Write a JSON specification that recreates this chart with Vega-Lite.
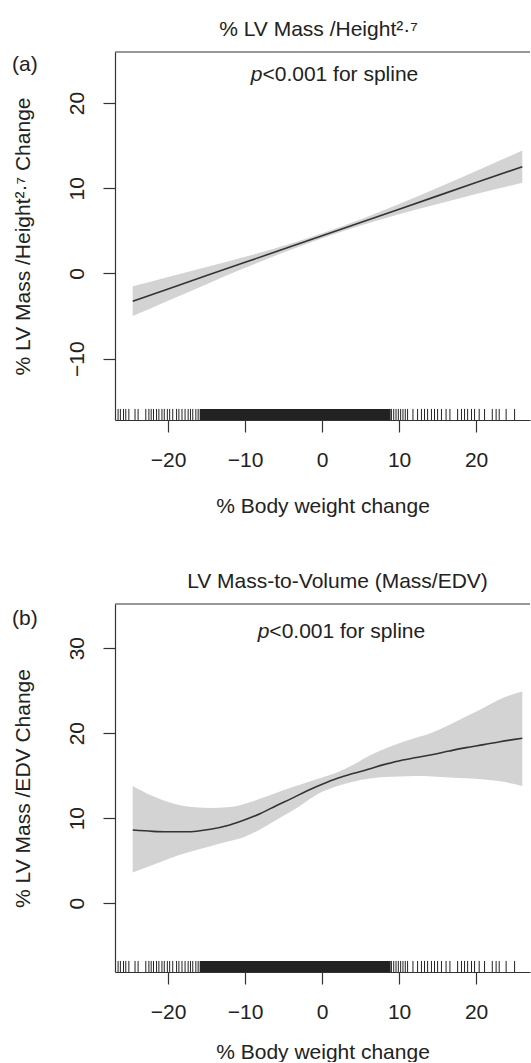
{
  "$schema": "https://vega.github.io/schema/vega-lite/v6.json",
  "background": "white",
  "padding": {"left": 12, "top": 19, "right": 0, "bottom": 0},
  "spacing": 55,
  "config": {
    "font": "Liberation Sans",
    "view": {"stroke": null},
    "axis": {
      "grid": false,
      "domainColor": "#333333",
      "tickColor": "#333333",
      "labelColor": "#222222",
      "titleColor": "#222222",
      "labelFont": "Liberation Sans",
      "titleFont": "Liberation Sans",
      "labelFontSize": 21,
      "titleFontSize": 21,
      "titleFontWeight": "normal",
      "tickSize": 12,
      "domainWidth": 1.2,
      "tickWidth": 1.2
    },
    "axisX": {"labelPadding": 17, "labelFlush": false},
    "axisY": {"labelAngle": -90, "labelAlign": "center", "labelBaseline": "alphabetic", "labelPadding": 20, "titlePadding": 33, "labelFlush": false},
    "title": {"fontSize": 21, "fontWeight": "normal", "color": "#222222", "frame": "group", "anchor": "middle", "baseline": "alphabetic", "offset": 11, "font": "Liberation Sans"}
  },
  "datasets": {
    "fitA": [
      {"x": -24.6, "fit": -3.25, "lo": -5.0, "hi": -1.5},
      {"x": -20, "fit": -1.81, "lo": -3.21, "hi": -0.41},
      {"x": -15, "fit": -0.25, "lo": -1.25, "hi": 0.75},
      {"x": -10, "fit": 1.31, "lo": 0.66, "hi": 1.96},
      {"x": -5, "fit": 2.87, "lo": 2.47, "hi": 3.27},
      {"x": 0, "fit": 4.43, "lo": 4.13, "hi": 4.73},
      {"x": 5, "fit": 5.99, "lo": 5.64, "hi": 6.34},
      {"x": 10, "fit": 7.55, "lo": 6.95, "hi": 8.15},
      {"x": 15, "fit": 9.11, "lo": 8.16, "hi": 10.06},
      {"x": 20, "fit": 10.67, "lo": 9.32, "hi": 12.02},
      {"x": 26, "fit": 12.54, "lo": 10.64, "hi": 14.44}
    ],
    "fitB": [
      {"x": -24.6, "fit": 8.6, "lo": 3.6, "hi": 13.8},
      {"x": -22, "fit": 8.45, "lo": 4.5, "hi": 12.6},
      {"x": -20, "fit": 8.4, "lo": 5.2, "hi": 11.9},
      {"x": -17.7, "fit": 8.4, "lo": 5.9, "hi": 11.4},
      {"x": -14.5, "fit": 8.7, "lo": 6.7, "hi": 11.2},
      {"x": -12, "fit": 9.2, "lo": 7.3, "hi": 11.3},
      {"x": -10.2, "fit": 9.75, "lo": 7.75, "hi": 11.65},
      {"x": -8, "fit": 10.55, "lo": 8.7, "hi": 12.3},
      {"x": -5.9, "fit": 11.5, "lo": 9.8, "hi": 13.0},
      {"x": -4, "fit": 12.3, "lo": 10.8, "hi": 13.6},
      {"x": -2, "fit": 13.2, "lo": 12.0, "hi": 14.2},
      {"x": 0, "fit": 14.0, "lo": 13.1, "hi": 14.8},
      {"x": 2, "fit": 14.7, "lo": 13.8, "hi": 15.4},
      {"x": 4, "fit": 15.25, "lo": 14.3, "hi": 16.25},
      {"x": 6, "fit": 15.75, "lo": 14.65, "hi": 17.3},
      {"x": 8, "fit": 16.3, "lo": 14.85, "hi": 18.1},
      {"x": 10.1, "fit": 16.75, "lo": 14.9, "hi": 18.85},
      {"x": 12, "fit": 17.1, "lo": 14.95, "hi": 19.4},
      {"x": 14.4, "fit": 17.5, "lo": 14.9, "hi": 20.1},
      {"x": 16.5, "fit": 17.9, "lo": 14.8, "hi": 20.95},
      {"x": 18.7, "fit": 18.3, "lo": 14.7, "hi": 21.95},
      {"x": 21, "fit": 18.65, "lo": 14.55, "hi": 23.0},
      {"x": 23.1, "fit": 19.0, "lo": 14.35, "hi": 24.0},
      {"x": 26, "fit": 19.4, "lo": 13.8, "hi": 24.9}
    ],
    "rug": [
      {"x": -26.5}, {"x": -26.2}, {"x": -25.8}, {"x": -25.5}, {"x": -25.1}, {"x": -24.3}, {"x": -23.9},
      {"x": -22.9}, {"x": -22.5}, {"x": -22.2}, {"x": -21.9}, {"x": -21.5}, {"x": -21.2}, {"x": -20.8},
      {"x": -20.5}, {"x": -20.1}, {"x": -19.8}, {"x": -19.4}, {"x": -18.9}, {"x": -18.6}, {"x": -18.2},
      {"x": -17.8}, {"x": -17.4}, {"x": -17.1}, {"x": -16.8}, {"x": -16.4}, {"x": -16.1},
      {"x": 9.0}, {"x": 9.3}, {"x": 9.6}, {"x": 9.9}, {"x": 10.2}, {"x": 10.5}, {"x": 10.8}, {"x": 11.1},
      {"x": 11.8}, {"x": 12.4}, {"x": 12.9}, {"x": 13.3}, {"x": 13.7}, {"x": 14.2}, {"x": 14.6}, {"x": 15.0},
      {"x": 15.5}, {"x": 16.1}, {"x": 16.6}, {"x": 17.6}, {"x": 18.1}, {"x": 18.5}, {"x": 18.9}, {"x": 19.4},
      {"x": 19.8}, {"x": 20.4}, {"x": 21.1}, {"x": 22.1}, {"x": 22.6}, {"x": 23.0}, {"x": 23.9}, {"x": 25.0}
    ],
    "rugBand": [{"start": -15.9, "end": 8.9}]
  },
  "vconcat": [
    {
      "width": 415,
      "height": 368,
      "title": {"text": "% LV Mass /Height²·⁷", "dx": -4},
      "layer": [
        {
          "data": {"name": "fitA"},
          "mark": {"type": "area", "color": "#d3d3d3", "interpolate": "monotone"},
          "encoding": {
            "x": {"field": "x", "type": "quantitative", "scale": {"domain": [-26.9, 27.0], "nice": false, "zero": false}, "axis": {"values": [-20, -10, 0, 10, 20], "title": "% Body weight change", "titlePadding": 25}},
            "y": {"field": "lo", "type": "quantitative", "scale": {"domain": [-17.2, 26], "nice": false, "zero": false}, "axis": {"values": [-10, 0, 10, 20], "title": "% LV Mass /Height²·⁷ Change"}},
            "y2": {"field": "hi"}
          }
        },
        {
          "data": {"name": "fitA"},
          "mark": {"type": "line", "color": "#333333", "strokeWidth": 1.6},
          "encoding": {
            "x": {"field": "x", "type": "quantitative"},
            "y": {"field": "fit", "type": "quantitative"}
          }
        },
        {
          "data": {"name": "rugBand"},
          "mark": {"type": "rect", "color": "#222222"},
          "encoding": {
            "x": {"field": "start", "type": "quantitative"},
            "x2": {"field": "end"},
            "y": {"datum": -17.2},
            "y2": {"datum": -15.9}
          }
        },
        {
          "data": {"name": "rug"},
          "mark": {"type": "rule", "color": "#222222", "strokeWidth": 1},
          "encoding": {
            "x": {"field": "x", "type": "quantitative"},
            "y": {"datum": -17.2},
            "y2": {"datum": -15.9}
          }
        },
        {
          "data": {"values": [{"edge": "top"}]},
          "mark": {"type": "rule", "color": "#333333", "strokeWidth": 1.2},
          "encoding": {"y": {"datum": 26}}
        },
        {
          "data": {"values": [{"t": "p"}]},
          "mark": {"type": "text", "fontSize": 21, "fontStyle": "italic", "align": "right", "baseline": "middle", "color": "#222222"},
          "encoding": {"x": {"datum": -7.75}, "y": {"datum": 23.3}, "text": {"field": "t"}}
        },
        {
          "data": {"values": [{"t": "<0.001 for spline"}]},
          "mark": {"type": "text", "fontSize": 21, "align": "left", "baseline": "middle", "color": "#222222"},
          "encoding": {"x": {"datum": -7.75}, "y": {"datum": 23.3}, "text": {"field": "t"}}
        },
        {
          "data": {"values": [{"t": "(a)"}]},
          "mark": {"type": "text", "fontSize": 21, "align": "center", "baseline": "middle", "color": "#222222"},
          "encoding": {"x": {"datum": -38.6}, "y": {"datum": 24.5}, "text": {"field": "t"}}
        }
      ]
    },
    {
      "width": 415,
      "height": 368,
      "title": {"text": "LV Mass-to-Volume (Mass/EDV)", "dx": 15},
      "layer": [
        {
          "data": {"name": "fitB"},
          "mark": {"type": "area", "color": "#d3d3d3", "interpolate": "monotone"},
          "encoding": {
            "x": {"field": "x", "type": "quantitative", "scale": {"domain": [-26.9, 27.0], "nice": false, "zero": false}, "axis": {"values": [-20, -10, 0, 10, 20], "title": "% Body weight change", "titlePadding": 19}},
            "y": {"field": "lo", "type": "quantitative", "scale": {"domain": [-8.1, 35.2], "nice": false, "zero": false}, "axis": {"values": [0, 10, 20, 30], "title": "% LV Mass /EDV Change"}},
            "y2": {"field": "hi"}
          }
        },
        {
          "data": {"name": "fitB"},
          "mark": {"type": "line", "color": "#333333", "strokeWidth": 1.6, "interpolate": "monotone"},
          "encoding": {
            "x": {"field": "x", "type": "quantitative"},
            "y": {"field": "fit", "type": "quantitative"}
          }
        },
        {
          "data": {"name": "rugBand"},
          "mark": {"type": "rect", "color": "#222222"},
          "encoding": {
            "x": {"field": "start", "type": "quantitative"},
            "x2": {"field": "end"},
            "y": {"datum": -8.1},
            "y2": {"datum": -6.8}
          }
        },
        {
          "data": {"name": "rug"},
          "mark": {"type": "rule", "color": "#222222", "strokeWidth": 1},
          "encoding": {
            "x": {"field": "x", "type": "quantitative"},
            "y": {"datum": -8.1},
            "y2": {"datum": -6.8}
          }
        },
        {
          "data": {"values": [{"edge": "top"}]},
          "mark": {"type": "rule", "color": "#333333", "strokeWidth": 1.2},
          "encoding": {"y": {"datum": 35.2}}
        },
        {
          "data": {"values": [{"t": "p"}]},
          "mark": {"type": "text", "fontSize": 21, "fontStyle": "italic", "align": "right", "baseline": "middle", "color": "#222222"},
          "encoding": {"x": {"datum": -6.85}, "y": {"datum": 31.9}, "text": {"field": "t"}}
        },
        {
          "data": {"values": [{"t": "<0.001 for spline"}]},
          "mark": {"type": "text", "fontSize": 21, "align": "left", "baseline": "middle", "color": "#222222"},
          "encoding": {"x": {"datum": -6.85}, "y": {"datum": 31.9}, "text": {"field": "t"}}
        },
        {
          "data": {"values": [{"t": "(b)"}]},
          "mark": {"type": "text", "fontSize": 21, "align": "center", "baseline": "middle", "color": "#222222"},
          "encoding": {"x": {"datum": -38.6}, "y": {"datum": 33.4}, "text": {"field": "t"}}
        }
      ]
    }
  ]
}
